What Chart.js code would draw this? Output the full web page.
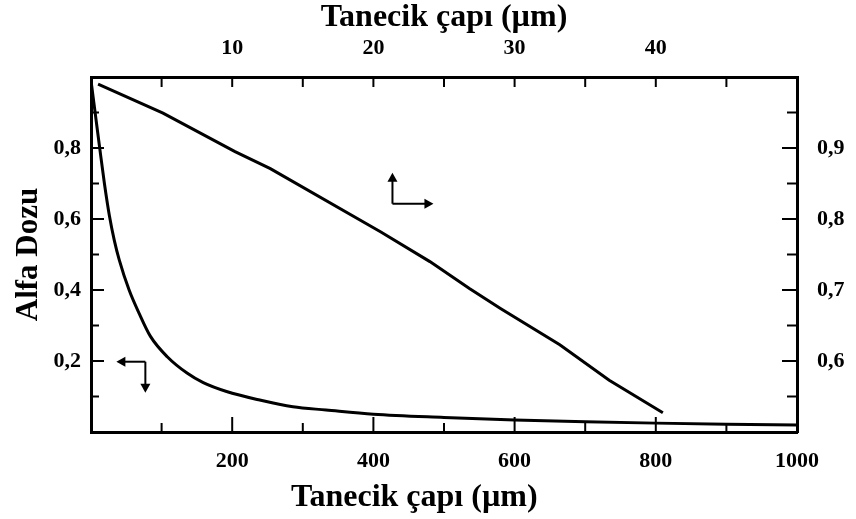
<!DOCTYPE html>
<html>
<head>
<meta charset="utf-8">
<script src="https://cdn.jsdelivr.net/npm/chart.js@4/dist/chart.umd.min.js"></script>
<style>
  body { margin: 0; background: #fff; }
  #wrap { width: 856px; height: 519px; }
</style>
</head>
<body>
<div id="wrap"><canvas id="doseChart"></canvas></div>
<script>
// bottom axis (µm, 0-1000) against left axis
const sizeBottom = [0, 12, 19, 26, 33, 40, 54, 68, 84, 108, 136, 159, 192, 239, 286, 333, 400, 500, 600, 700, 800, 900, 1000];
const doseBottom = [0.99, 0.805, 0.70, 0.61, 0.54, 0.485, 0.40, 0.335, 0.27, 0.212, 0.166, 0.139, 0.114, 0.090, 0.071, 0.062, 0.050, 0.041, 0.034, 0.029, 0.025, 0.022, 0.020];

// top axis (µm, 0-50) against right axis
const sizeTop = [0.5, 5.1, 10.2, 12.7, 20.5, 24.0, 26.8, 29.0, 33.2, 36.7, 40.5];
const doseTop = [0.99, 0.949, 0.895, 0.871, 0.782, 0.740, 0.702, 0.674, 0.623, 0.573, 0.527];

// tick labels shown
const bottomLabels = [200, 400, 600, 800, 1000];
const topLabels = [10, 20, 30, 40];
const leftLabels = [0.2, 0.4, 0.6, 0.8];
const rightLabels = [0.6, 0.7, 0.8, 0.9];

const axisTitle = 'Tanecik çapı (µm)';
const serif = 'Liberation Serif';

function toXY(xs, ys) {
  return xs.map((x, i) => ({ x: x, y: ys[i] }));
}
function hasLabel(list, v) {
  return list.some(l => Math.abs(l - v) < 1e-6);
}
function comma(v) {
  return v.toFixed(1).replace('.', ',');
}

// inward tick marks, drawn from the scales' own ticks
const inwardTicks = {
  id: 'inwardTicks',
  afterDraw(chart) {
    const ctx = chart.ctx;
    const area = chart.chartArea;
    ctx.save();
    ctx.strokeStyle = '#000';
    ctx.lineWidth = 2;
    const sets = [
      { s: chart.scales.x, labels: bottomLabels, major: 15, minor: 9 },
      { s: chart.scales.x2, labels: topLabels, major: 10, minor: 10 },
      { s: chart.scales.y, labels: leftLabels, major: 13, minor: 8 },
      { s: chart.scales.y2, labels: rightLabels, major: 15, minor: 10 }
    ];
    sets.forEach(set => {
      const s = set.s;
      s.ticks.forEach(t => {
        if (t.value <= s.min || t.value >= s.max) return;
        const len = hasLabel(set.labels, t.value) ? set.major : set.minor;
        const p = s.getPixelForValue(t.value);
        ctx.beginPath();
        if (s.id === 'x') { ctx.moveTo(p, area.bottom); ctx.lineTo(p, area.bottom - len); }
        if (s.id === 'x2') { ctx.moveTo(p, area.top); ctx.lineTo(p, area.top + len); }
        if (s.id === 'y') { ctx.moveTo(area.left, p); ctx.lineTo(area.left + len, p); }
        if (s.id === 'y2') { ctx.moveTo(area.right, p); ctx.lineTo(area.right - len, p); }
        ctx.stroke();
      });
    });
    ctx.restore();
  }
};

// the two L shaped arrows telling which axes belong to which curve
const arrowMarks = [
  { x: 427, y: 0.643, legs: [['up', 31], ['right', 41]] },
  { x: 77, y: 0.198, legs: [['left', 29], ['down', 31]] }
];
const axisArrows = {
  id: 'axisArrows',
  afterDatasetsDraw(chart) {
    const ctx = chart.ctx;
    const xs = chart.scales.x, ys = chart.scales.y;
    ctx.save();
    ctx.strokeStyle = '#000';
    ctx.fillStyle = '#000';
    ctx.lineWidth = 2;
    arrowMarks.forEach(a => {
      const cx = xs.getPixelForValue(a.x);
      const cy = ys.getPixelForValue(a.y);
      a.legs.forEach(([dir, len]) => {
        const dx = dir === 'right' ? 1 : dir === 'left' ? -1 : 0;
        const dy = dir === 'down' ? 1 : dir === 'up' ? -1 : 0;
        const tx = cx + dx * len, ty = cy + dy * len;
        ctx.beginPath();
        ctx.moveTo(cx, cy);
        ctx.lineTo(tx - dx * 6, ty - dy * 6);
        ctx.stroke();
        // head
        ctx.beginPath();
        ctx.moveTo(tx, ty);
        ctx.lineTo(tx - dx * 9 + dy * 5, ty - dy * 9 + dx * 5);
        ctx.lineTo(tx - dx * 9 - dy * 5, ty - dy * 9 - dx * 5);
        ctx.closePath();
        ctx.fill();
      });
    });
    ctx.restore();
  }
};

// bottom title sits a bit left of the axis centre in the original
const bottomTitle = {
  id: 'bottomTitle',
  afterDraw(chart) {
    const ctx = chart.ctx;
    ctx.save();
    ctx.font = 'bold 32px "' + serif + '"';
    ctx.fillStyle = '#000';
    ctx.textAlign = 'center';
    ctx.textBaseline = 'middle';
    ctx.fillText(axisTitle, chart.scales.x.getPixelForValue(458), 498);
    ctx.restore();
  }
};

const tickFont = { family: serif, size: 22, weight: 'bold' };
const border = { display: true, color: '#000', width: 3 };
const noGrid = { display: false, drawTicks: false };

new Chart(document.getElementById('doseChart'), {
  type: 'line',
  data: {
    datasets: [
      {
        data: toXY(sizeBottom, doseBottom),
        xAxisID: 'x', yAxisID: 'y',
        borderColor: '#000', borderWidth: 3,
        pointRadius: 0, cubicInterpolationMode: 'monotone'
      },
      {
        data: toXY(sizeTop, doseTop),
        xAxisID: 'x2', yAxisID: 'y2',
        borderColor: '#000', borderWidth: 3,
        pointRadius: 0, tension: 0
      }
    ]
  },
  options: {
    responsive: true,
    maintainAspectRatio: false,
    animation: false,
    layout: { padding: 0 },
    plugins: { legend: { display: false }, tooltip: { enabled: false } },
    scales: {
      x: {
        type: 'linear', position: 'bottom', min: 0, max: 1000,
        grid: noGrid, border: border,
        ticks: {
          stepSize: 100, autoSkip: false, maxRotation: 0, color: '#000', font: tickFont, padding: 16,
          callback: v => hasLabel(bottomLabels, v) ? String(v) : ''
        },
        afterFit: s => { s.height = 87; }
      },
      x2: {
        type: 'linear', position: 'top', min: 0, max: 50,
        grid: noGrid, border: border,
        ticks: {
          stepSize: 5, autoSkip: false, maxRotation: 0, color: '#000', font: tickFont, padding: 15,
          callback: v => hasLabel(topLabels, v) ? String(v) : ''
        },
        title: {
          display: true, text: axisTitle, color: '#000',
          font: { family: serif, size: 32, weight: 'bold', lineHeight: 1 },
          padding: { top: 2, bottom: 0 }
        },
        afterFit: s => { s.height = 77; }
      },
      y: {
        type: 'linear', position: 'left', min: 0, max: 1,
        grid: noGrid, border: border,
        ticks: {
          stepSize: 0.1, autoSkip: false, color: '#000', font: tickFont, padding: 10,
          callback: v => hasLabel(leftLabels, v) ? comma(v) : ''
        },
        title: {
          display: true, text: 'Alfa Dozu', color: '#000',
          font: { family: serif, size: 31, weight: 'bold', lineHeight: 1 },
          padding: { top: 13, bottom: 0 }
        },
        afterFit: s => { s.width = 91; }
      },
      y2: {
        type: 'linear', position: 'right', min: 0.5, max: 1,
        grid: noGrid, border: border,
        ticks: {
          stepSize: 0.05, autoSkip: false, color: '#000', font: tickFont, padding: 20,
          callback: v => hasLabel(rightLabels, v) ? comma(v) : ''
        },
        afterFit: s => { s.width = 59; }
      }
    }
  },
  plugins: [inwardTicks, axisArrows, bottomTitle]
});
</script>
</body>
</html>
